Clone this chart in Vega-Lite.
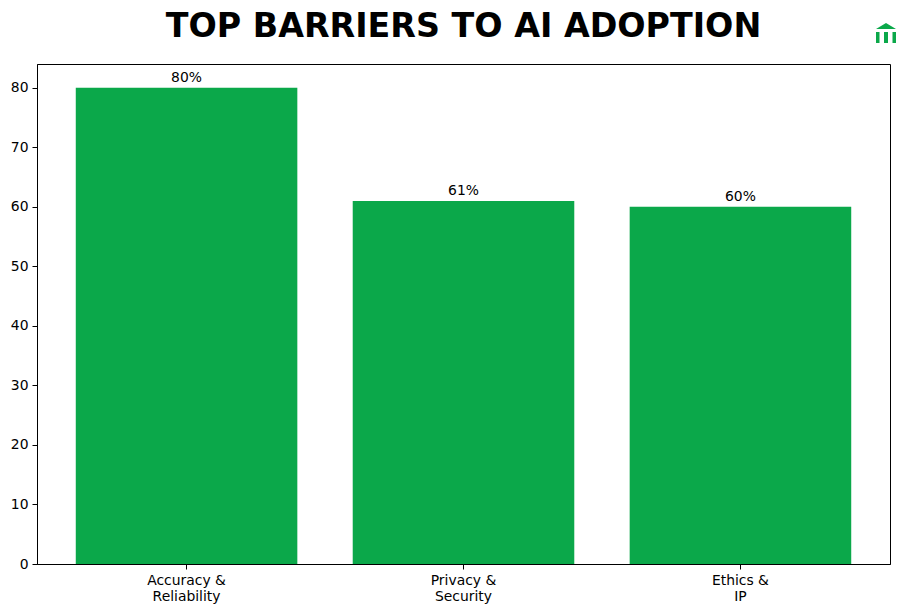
{
  "$schema": "https://vega.github.io/schema/vega-lite/v6.json",
  "width": 853,
  "height": 500,
  "autosize": "none",
  "padding": {"left": 37, "top": 64, "right": 21, "bottom": 50},
  "background": "white",
  "title": {
    "text": "TOP BARRIERS TO AI ADOPTION",
    "anchor": "middle",
    "font": "DejaVu Sans",
    "fontSize": 33.3,
    "fontWeight": "bold",
    "color": "black",
    "offset": -21
  },
  "config": {
    "font": "DejaVu Sans",
    "view": {"stroke": "black", "strokeWidth": 1},
    "axis": {
      "grid": false,
      "labelFont": "DejaVu Sans",
      "labelFontSize": 13.9,
      "labelColor": "black",
      "domainColor": "black",
      "tickColor": "black",
      "tickSize": 5,
      "title": null
    }
  },
  "data": {
    "values": [
      {"barrier": "Accuracy &\nReliability", "pct": 80, "label": "80%"},
      {"barrier": "Privacy &\nSecurity", "pct": 61, "label": "61%"},
      {"barrier": "Ethics &\nIP", "pct": 60, "label": "60%"}
    ]
  },
  "encoding": {
    "x": {
      "field": "barrier",
      "type": "nominal",
      "sort": null,
      "scale": {"paddingInner": 0.2, "paddingOuter": 0.14},
      "axis": {"labelAngle": 0, "labelExpr": "split(datum.label, '\\n')", "labelLineHeight": 16, "labelPadding": 4, "labelLimit": 0}
    },
    "y": {
      "field": "pct",
      "type": "quantitative",
      "scale": {"domain": [0, 84], "nice": false},
      "axis": {"values": [0, 10, 20, 30, 40, 50, 60, 70, 80], "labelPadding": 4}
    }
  },
  "layer": [
    {"mark": {"type": "bar", "color": "#0BA84A"}},
    {
      "mark": {"type": "text", "baseline": "bottom", "dy": -3, "fontSize": 13.9, "color": "black"},
      "encoding": {"text": {"field": "label"}}
    },
    {
      "data": {"values": [{"logo": "bank"}]},
      "mark": {
        "type": "point",
        "filled": true,
        "opacity": 1,
        "clip": false,
        "color": "#0BA84A",
        "size": 400,
        "shape": "M0,-1L1,-0.4L-1,-0.4ZM-1,-0.1L-0.65,-0.1L-0.65,1L-1,1ZM-0.2,-0.1L0.2,-0.1L0.2,1L-0.2,1ZM0.65,-0.1L1,-0.1L1,1L0.65,1Z"
      },
      "encoding": {"x": {"value": 849}, "y": {"value": -31}}
    }
  ]
}
